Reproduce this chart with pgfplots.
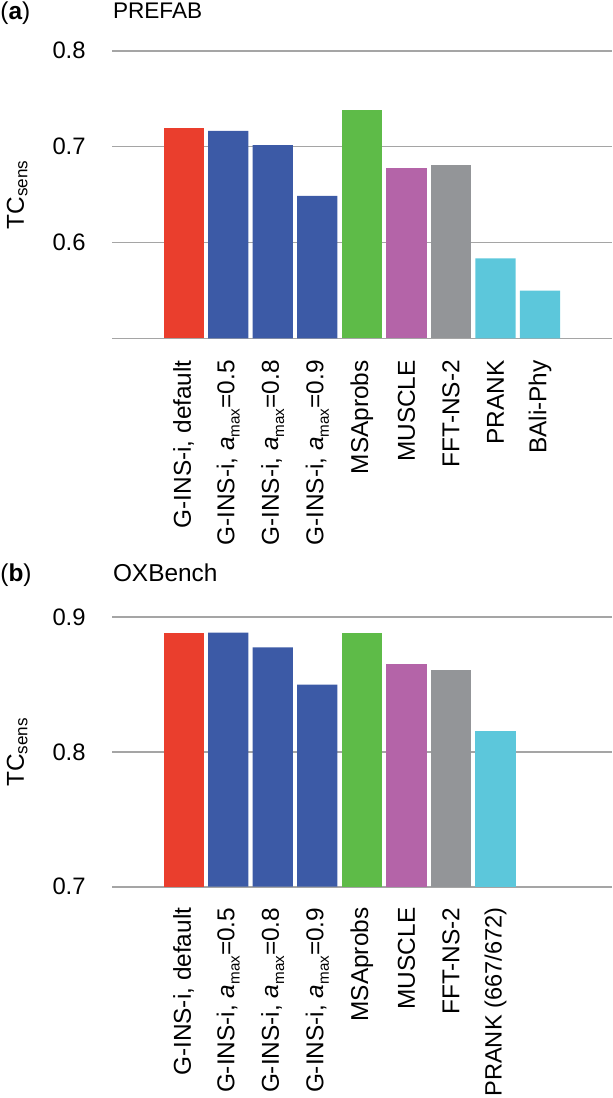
\documentclass[border=0pt]{standalone}
\usepackage{fontspec}
\setmainfont{Liberation Sans}
\usepackage{pgfplots}
\pgfplotsset{compat=1.18}

\definecolor{cred}{RGB}{234,62,45}
\definecolor{cblue}{RGB}{60,90,166}
\definecolor{cgreen}{RGB}{94,187,72}
\definecolor{cpurple}{RGB}{180,100,168}
\definecolor{cgray}{RGB}{147,149,152}
\definecolor{ccyan}{RGB}{92,199,219}
\definecolor{cgrid}{RGB}{165,165,165}

\newcommand{\amax}{\textit{a}\raisebox{-0.22em}{\fontsize{7.6}{8}\selectfont max}}
\newcommand{\catfont}{\fontsize{12.2}{14}\selectfont}
\newcommand{\tickfont}{\fontsize{11.9}{14}\selectfont}

\pgfplotsset{
  mybars/.style={
    scale only axis,
    width=250pt,
    ybar, bar width=0.905, bar shift=0pt,
    xmin=-1.61, xmax=9.616,
    axis line style={draw=none},
    tick style={draw=none},
    ymajorgrids,
    grid style={cgrid, line width=0.8pt},
    xtick={0,...,8},
    xticklabel style={rotate=90, anchor=east, inner sep=0pt, font=\catfont},
    xticklabel shift=6.5pt,
    yticklabel style={anchor=east, inner sep=0pt, font=\tickfont},
    yticklabel shift=13pt,
    ylabel={TC\textsubscript{sens}},
    ylabel style={at={(axis description cs:-0.168,0.5)}, anchor=south, inner sep=0pt, font=\catfont},
    every axis plot/.append style={draw=none, bar shift=0pt},
  }
}

\begin{document}
\begin{tikzpicture}
\useasboundingbox (0pt,0pt) rectangle (306pt,-549pt);

% ---------------- Panel (a) PREFAB ----------------
\begin{axis}[mybars,
  at={(56pt,-169.15pt)}, anchor=south west,
  height=143.8pt,
  ymin=0.5, ymax=0.8,
  ytick={0.5,0.6,0.7,0.8},
  yticklabels={,0.6,0.7,0.8},
  xticklabels={G-INS-i{,} default, G-INS-i{,} \amax=0.5, G-INS-i{,} \amax=0.8, G-INS-i{,} \amax=0.9, MSAprobs, MUSCLE, FFT-NS-2, PRANK, BAli-Phy},
]
\addplot[fill=cred] coordinates {(0,0.7196)};
\addplot[fill=cblue] coordinates {(1,0.7165) (2,0.7014) (3,0.6485)};
\addplot[fill=cgreen] coordinates {(4,0.7379)};
\addplot[fill=cpurple] coordinates {(5,0.6778)};
\addplot[fill=cgray] coordinates {(6,0.6809)};
\addplot[fill=ccyan] coordinates {(7,0.5835) (8,0.5498)};
\end{axis}

% ---------------- Panel (b) OXBench ----------------
\begin{axis}[mybars,
  at={(56pt,-443.35pt)}, anchor=south west,
  height=134.85pt,
  ymin=0.7, ymax=0.9,
  ytick={0.7,0.8,0.9},
  yticklabels={0.7,0.8,0.9},
  xtick={0,...,7},
  xticklabel shift=6pt,
  xticklabels={G-INS-i{,} default, G-INS-i{,} \amax=0.5, G-INS-i{,} \amax=0.8, G-INS-i{,} \amax=0.9, MSAprobs, MUSCLE, FFT-NS-2, {\fontsize{11.8}{14}\selectfont PRANK (667/672)}},
]
\addplot[fill=cred] coordinates {(0,0.8884)};
\addplot[fill=cblue] coordinates {(1,0.8884) (2,0.8775) (3,0.8499)};
\addplot[fill=cgreen] coordinates {(4,0.8884)};
\addplot[fill=cpurple] coordinates {(5,0.8649)};
\addplot[fill=cgray] coordinates {(6,0.8605)};
\addplot[fill=ccyan] coordinates {(7,0.8158)};
\end{axis}

% titles
\node[anchor=base west, inner sep=0pt, font=\fontsize{12.2}{14}\selectfont] at (0pt,-9.6pt) {(\textbf{a})};
\node[anchor=base west, inner sep=0pt, font=\fontsize{11.3}{14}\selectfont] at (56.3pt,-9.15pt) {PREFAB};
\node[anchor=base west, inner sep=0pt, font=\fontsize{12.2}{14}\selectfont] at (0pt,-290.5pt) {(\textbf{b})};
\node[anchor=base west, inner sep=0pt, font=\fontsize{12.2}{14}\selectfont] at (56.3pt,-290.5pt) {OXBench};
\end{tikzpicture}
\end{document}
